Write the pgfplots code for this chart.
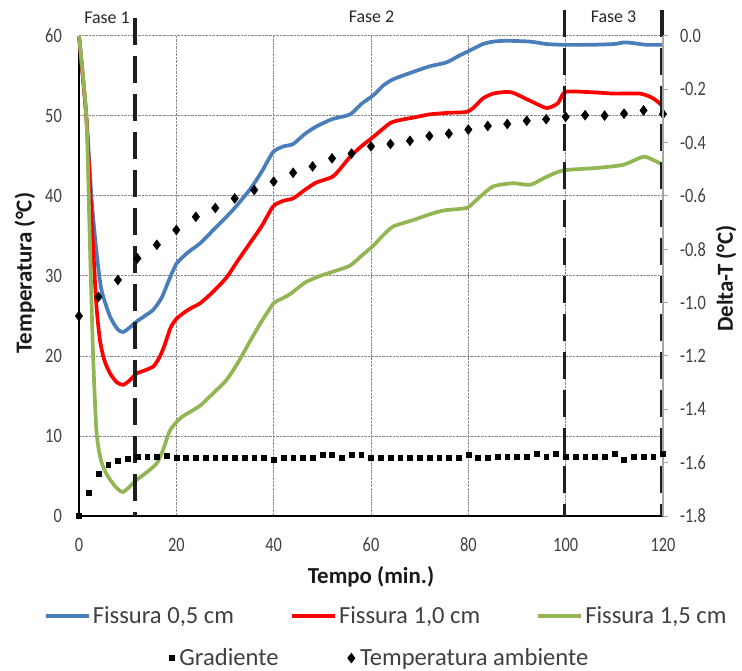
\documentclass[border=0pt]{standalone}
\usepackage{fontspec}
\setmainfont{Carlito}
\usepackage{graphicx}
\usepackage{pgfplots}
\pgfplotsset{compat=1.18}

\definecolor{cblue}{HTML}{4A7EBB}
\definecolor{cred}{HTML}{FF0000}
\definecolor{cgreen}{HTML}{92B653}
\definecolor{ctick}{HTML}{404040}
\definecolor{cgrid}{HTML}{8A8A8A}
\definecolor{caxis}{HTML}{A6A6A6}

\newcommand{\tickfont}{\fontsize{20.5}{24}\selectfont}

\begin{document}
\begin{tikzpicture}
\useasboundingbox (-79bp,-155bp) rectangle (663bp,516bp);
\begin{axis}[
  at={(0,0)}, anchor=south west,
  scale only axis, width=584bp, height=480bp,
  xmin=0, xmax=120, ymin=0, ymax=60,
  enlargelimits=false,
  clip=false,
  axis x line*=bottom, axis y line*=left,
  axis line style={black, line width=2bp, -},
  xtick={0,20,...,120}, ytick={0,10,...,60},
  major tick length=0pt,
  grid=major,
  major grid style={cgrid, densely dotted, line width=1bp},
  /pgf/number format/assume math mode=true,
  xticklabel={\scalebox{0.8}[1]{\pgfmathprintnumber{\tick}}},
  yticklabel={\scalebox{0.8}[1]{\pgfmathprintnumber{\tick}}},
  xticklabel style={font=\tickfont, text=ctick, anchor=center, inner sep=0pt, yshift=-29bp},
  yticklabel style={font=\tickfont, text=ctick, anchor=east, inner sep=0pt, xshift=-17bp},
  xlabel={Tempo (min.)}, ylabel={Temperatura (°C)},
  label style={font=\fontsize{23}{27}\selectfont\bfseries, text=black!90},
  xlabel style={at={(axis description cs:0.5,-0.127)}, anchor=center},
  ylabel style={at={(axis description cs:-0.0925,0.506)}, anchor=center},
  legend style={at={(axis description cs:0.526,-0.208)}, anchor=center, draw=none, fill=none,
    font=\fontsize{24.7}{29}\selectfont, text=ctick, legend columns=3,
    /tikz/every even column/.append style={column sep=54bp}},
  legend cell align=left,
  legend image code/.code={\draw[#1, line width=4bp] (0bp,0bp) -- (43bp,0bp);},
]
\addplot[cblue, line width=3.7bp, smooth, tension=0.4] coordinates {
(0,60) (1.5,50) (2.6,39.5) (3.6,33) (4.6,28.3) (6.4,24.9) (8,23.3) (9.1,23) (10.5,23.6) (11.8,24.3) (13.5,25) (15.3,25.8) (17,27.3) (18.5,29.5) (20.1,31.6) (22.5,33) (24.9,34.1) (28,36) (31.7,38.3) (35.1,40.8) (37.5,43) (39.9,45.5) (42,46.2) (44,46.5) (46.5,47.8) (48.8,48.7) (52,49.6) (55.7,50.2) (58,51.5) (60.5,52.6) (62.5,53.8) (64.6,54.6) (68.6,55.5) (72,56.2) (75.5,56.7) (78,57.5) (81,58.4) (83,59) (85.1,59.3) (87.9,59.4) (92.7,59.3) (96,59) (99.5,58.9) (105,58.9) (110,59) (112,59.2) (114,59.1) (116.6,58.9) (120,58.9)
};
\addlegendentry{Fissura 0,5 cm}
\addplot[cred, line width=3.7bp, smooth, tension=0.4] coordinates {
(0,60) (1.5,50) (2.4,39.5) (3.5,27) (4.3,22) (5.2,19.5) (6.4,17.8) (7.8,16.7) (9.1,16.4) (10.5,17) (11.8,17.8) (13.5,18.2) (15.3,18.7) (16.5,19.8) (17.5,21.2) (18.8,23.5) (20.1,24.7) (22.5,25.8) (24.9,26.6) (27.5,28) (30.3,29.8) (32.5,31.8) (35,34) (37.5,36.2) (39.9,38.7) (42,39.4) (44,39.7) (46.5,40.8) (48.8,41.7) (52.3,42.5) (55.7,44.9) (58,46.2) (60.5,47.4) (63.9,49.1) (66,49.5) (68.7,49.8) (72,50.2) (76,50.4) (79.6,50.5) (81,51) (83,52.2) (85.1,52.8) (87.5,53) (89.2,52.9) (92.7,51.9) (96.1,51) (98.4,51.6) (99.9,53) (104.3,53) (110,52.8) (115.3,52.8) (118,52.2) (120,51.2)
};
\addlegendentry{Fissura 1,0 cm}
\addplot[cgreen, line width=3.7bp, smooth, tension=0.4] coordinates {
(0,60) (1.5,50) (2.2,35) (2.9,20) (3.6,10.5) (4.5,7) (5.7,5.2) (7.3,3.8) (8.5,3.1) (9.1,3) (10.3,3.6) (11.8,4.5) (14,5.5) (16,6.6) (17.3,8.3) (18.7,10.7) (20.75,12.2) (22.8,13) (24.9,13.8) (27.5,15.3) (30.3,17) (32.5,19) (35.1,21.8) (37.5,24.3) (40,26.6) (41.5,27.1) (43.5,27.8) (46.5,29.2) (49.5,30) (52.5,30.6) (55.7,31.3) (58,32.5) (60.5,33.8) (62.5,35.1) (64.6,36.2) (68.7,37) (72,37.7) (75,38.2) (79.6,38.5) (81.3,39.3) (82.4,39.9) (85.1,41.2) (89.2,41.6) (92.7,41.4) (96.1,42.4) (99.5,43.2) (106.3,43.5) (111.8,43.9) (115.9,44.9) (118,44.5) (120,43.9)
};
\addlegendentry{Fissura 1,5 cm}
% phase separators
\addplot[forget plot, black!88, line width=3.5bp, dash pattern=on 27bp off 11bp] coordinates {(11.5,62.2) (11.5,0)};
\addplot[forget plot, black!88, line width=3.5bp, dash pattern=on 27bp off 11bp] coordinates {(99.8,63.2) (99.8,0)};
\addplot[forget plot, black!88, line width=3.5bp, dash pattern=on 27bp off 11bp] coordinates {(119.8,63.2) (119.8,0)};
% Temperatura ambiente
\addplot[forget plot, only marks, mark=diamond*, mark size=5bp, black] coordinates {
(0,25) (4,27.4) (8,29.5) (12,32.2) (16,33.9) (20,35.75) (24,37.4) (28,38.5) (32,39.7) (36,40.75) (40,41.8) (44,42.9) (48,43.7) (52,44.7) (56,45.3) (60,46.2) (64,46.5) (68,46.9) (72,47.5) (76,47.8) (80,48.3) (84,48.75) (88,49) (92,49.4) (96,49.6) (100,49.9) (104,50.1) (108,50.05) (112,50.3) (116,50.7) (120,50.25)
};
\end{axis}
\begin{axis}[
  at={(0,0)}, anchor=south west,
  scale only axis, width=584bp, height=480bp,
  xmin=0, xmax=120, ymin=-1.8, ymax=0,
  enlargelimits=false,
  clip=false,
  axis x line=none, axis y line*=right,
  axis line style={caxis, line width=1.5bp, -},
  ytick={-1.8,-1.6,-1.4,-1.2,-1,-0.8,-0.6,-0.4,-0.2,0},
  tick align=outside, major tick length=5bp,
  tick style={caxis, line width=1bp},
  /pgf/number format/assume math mode=true,
  /pgf/number format/fixed, /pgf/number format/fixed zerofill, /pgf/number format/precision=1,
  yticklabel={\scalebox{0.8}[1]{\pgfmathprintnumber{\tick}}},
  yticklabel style={font=\tickfont, text=ctick, anchor=west, inner sep=0pt, xshift=12bp},
  ylabel={Delta-T (°C)},
  ylabel style={font=\fontsize{23}{27}\selectfont\bfseries, text=black!90, at={(axis description cs:1.108,0.495)}, anchor=center},
  legend style={at={(axis description cs:0.518,-0.296)}, anchor=center, draw=none, fill=none,
    font=\fontsize{24.7}{29}\selectfont, text=ctick, legend columns=2,
    nodes={inner xsep=5bp},
    /tikz/every even column/.append style={column sep=64bp}},
  legend cell align=left,
  legend image code/.code={\draw[#1] plot coordinates {(0bp,0bp)};},
]
\addplot[only marks, mark=square*, mark size=2.4bp, black] coordinates {
(0,-1.800) (2,-1.713) (4,-1.640) (6,-1.608) (8,-1.593) (10,-1.584) (12,-1.578) (14,-1.578) (16,-1.578) (18,-1.574) (20,-1.580) (22,-1.580) (24,-1.580) (26,-1.580) (28,-1.580) (30,-1.580) (32,-1.580) (34,-1.580) (36,-1.580) (38,-1.580) (40,-1.588) (42,-1.580) (44,-1.580) (46,-1.580) (48,-1.580) (50,-1.571) (52,-1.569) (54,-1.580) (56,-1.569) (58,-1.569) (60,-1.580) (62,-1.580) (64,-1.580) (66,-1.580) (68,-1.580) (70,-1.580) (72,-1.580) (74,-1.580) (76,-1.580) (78,-1.580) (80,-1.569) (82,-1.580) (84,-1.580) (86,-1.578) (88,-1.578) (90,-1.578) (92,-1.578) (94,-1.566) (96,-1.578) (98,-1.566) (100,-1.578) (102,-1.578) (104,-1.578) (106,-1.578) (108,-1.578) (110,-1.566) (112,-1.590) (114,-1.578) (116,-1.578) (118,-1.578) (120,-1.565)
};
\addlegendentry{Gradiente}
\addlegendimage{only marks, mark=diamond*, mark size=5bp, black}
\addlegendentry{Temperatura ambiente}
\end{axis}
\node[font=\fontsize{18}{21}\selectfont, text=black!85] at (28bp,498bp) {Fase 1};
\node[font=\fontsize{18}{21}\selectfont, text=black!85] at (292.5bp,499bp) {Fase 2};
\node[font=\fontsize{18}{21}\selectfont, text=black!85] at (534.5bp,499bp) {Fase 3};
\end{tikzpicture}
\end{document}
